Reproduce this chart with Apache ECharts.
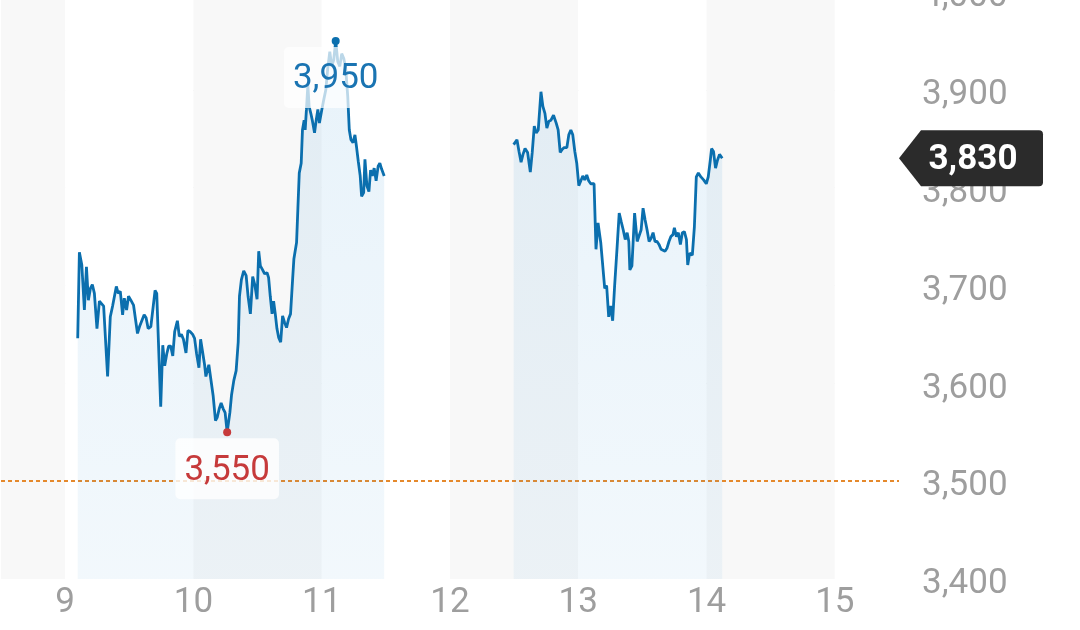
<!DOCTYPE html>
<html>
<head>
<meta charset="utf-8">
<script src="https://cdn.jsdelivr.net/npm/echarts@6/dist/echarts.min.js"></script>
<style>
  html, body { margin: 0; padding: 0; background: #fff; }
  #chart { width: 1080px; height: 630px; }
</style>
</head>
<body>
<div id="chart"></div>
<script>
// intraday price, time in hours (9.5 = 9:30)
var amTimes = [
  9.098, 9.111, 9.130, 9.150, 9.166, 9.181, 9.197, 9.212, 9.228, 9.248,
  9.267, 9.280, 9.300, 9.331, 9.352, 9.370, 9.383, 9.399, 9.414, 9.430,
  9.448, 9.461, 9.479, 9.494, 9.512, 9.533, 9.549, 9.564, 9.580, 9.595,
  9.616, 9.631, 9.647, 9.668, 9.683, 9.701, 9.714, 9.745, 9.761, 9.776,
  9.792, 9.807, 9.823, 9.839, 9.854, 9.875, 9.890, 9.906, 9.922, 9.942,
  9.957, 9.973, 9.994, 10.009, 10.025, 10.043, 10.056, 10.071, 10.087, 10.097,
  10.120, 10.134, 10.154, 10.172, 10.185, 10.201, 10.216, 10.232, 10.247, 10.263,
  10.284, 10.297, 10.315, 10.333, 10.349, 10.359, 10.374, 10.392, 10.411, 10.426,
  10.444, 10.462, 10.478, 10.496, 10.509, 10.522, 10.535, 10.555, 10.574, 10.586,
  10.599, 10.613, 10.625, 10.638, 10.651, 10.664, 10.680, 10.695, 10.711, 10.726,
  10.742, 10.757, 10.773, 10.783, 10.804, 10.814, 10.825, 10.840, 10.850, 10.863,
  10.871, 10.881, 10.892, 10.902, 10.915, 10.928, 10.944, 10.957, 10.970, 10.982,
  11.001, 11.016, 11.032, 11.047, 11.063, 11.078, 11.094, 11.109, 11.125, 11.141,
  11.156, 11.172, 11.187, 11.203, 11.215, 11.228, 11.244, 11.259, 11.272, 11.285,
  11.300, 11.311, 11.327, 11.337, 11.352, 11.368, 11.381, 11.394, 11.409, 11.424,
  11.440, 11.453, 11.467, 11.487
];
var amPrices = [
  3646, 3734, 3721, 3675, 3719, 3685, 3697, 3701, 3692, 3656,
  3684, 3685, 3679, 3607, 3668, 3679, 3677, 3699, 3692, 3694,
  3670, 3687, 3675, 3689, 3685, 3680, 3665, 3651, 3658, 3657,
  3670, 3667, 3656, 3658, 3660, 3695, 3692, 3576, 3639, 3618,
  3630, 3638, 3638, 3628, 3653, 3664, 3648, 3650, 3645, 3631,
  3654, 3653, 3650, 3646, 3630, 3616, 3645, 3643, 3619, 3607,
  3619, 3618, 3587, 3562, 3565, 3574, 3580, 3574, 3570, 3550,
  3570, 3588, 3603, 3613, 3642, 3689, 3706, 3715, 3710, 3689,
  3671, 3709, 3701, 3686, 3735, 3720, 3717, 3712, 3713, 3708,
  3689, 3671, 3684, 3671, 3656, 3647, 3642, 3669, 3662, 3657,
  3666, 3671, 3706, 3727, 3744, 3778, 3815, 3825, 3859, 3869,
  3859, 3880, 3905, 3883, 3876, 3868, 3856, 3869, 3880, 3866,
  3880, 3890, 3900, 3922, 3939, 3924, 3931, 3950, 3929, 3924,
  3937, 3932, 3922, 3893, 3859, 3849, 3846, 3854, 3841, 3827,
  3812, 3791, 3795, 3829, 3802, 3796, 3818, 3812, 3820, 3807,
  3822, 3825, 3819, 3812
];
var pmTimes = [
  12.496, 12.522, 12.538, 12.554, 12.569, 12.585, 12.605, 12.626, 12.641, 12.657,
  12.672, 12.688, 12.709, 12.724, 12.740, 12.755, 12.771, 12.787, 12.807, 12.828,
  12.843, 12.859, 12.874, 12.890, 12.911, 12.926, 12.942, 12.957, 12.973, 12.988,
  13.004, 13.019, 13.035, 13.050, 13.066, 13.081, 13.097, 13.123, 13.138, 13.154,
  13.175, 13.190, 13.206, 13.221, 13.237, 13.252, 13.268, 13.283, 13.303, 13.319,
  13.335, 13.350, 13.366, 13.381, 13.394, 13.402, 13.418, 13.439, 13.459, 13.474,
  13.490, 13.505, 13.521, 13.536, 13.552, 13.567, 13.583, 13.598, 13.614, 13.629,
  13.645, 13.660, 13.676, 13.691, 13.707, 13.722, 13.738, 13.749, 13.765, 13.780,
  13.796, 13.811, 13.827, 13.843, 13.853, 13.868, 13.889, 13.905, 13.920, 13.936,
  13.956, 13.977, 13.998, 14.013, 14.029, 14.039, 14.054, 14.070, 14.085, 14.101,
  14.122
];
var pmPrices = [
  3844, 3849, 3837, 3826, 3834, 3840, 3836, 3816, 3836, 3863,
  3856, 3859, 3898, 3883, 3876, 3861, 3868, 3869, 3874, 3866,
  3859, 3836, 3839, 3841, 3841, 3854, 3859, 3854, 3837, 3825,
  3802, 3800, 3812, 3808, 3813, 3807, 3804, 3804, 3737, 3764,
  3744, 3746, 3697, 3700, 3668, 3679, 3664, 3699, 3740, 3774,
  3765, 3757, 3747, 3754, 3745, 3716, 3720, 3774, 3745, 3747,
  3757, 3779, 3767, 3757, 3745, 3748, 3754, 3745, 3745, 3742,
  3737, 3735, 3735, 3738, 3745, 3750, 3752, 3759, 3750, 3754,
  3742, 3754, 3755, 3747, 3721, 3733, 3731, 3760, 3811, 3815,
  3811, 3808, 3804, 3811, 3828, 3840, 3837, 3820, 3828, 3834,
  3830
];
var lunchBreak = 12;
var refPrice = 3500;
var xTicks = [9, 10, 11, 12, 13, 14, 15];

var lineColor = '#0b6fae';
var upColor = '#1a74b2';
var downColor = '#c63a3b';
var axisText = '#9e9e9e';

function fmt(v) {
    return Number(v).toLocaleString('en-US');
}

var data = [];
amTimes.forEach(function (t, i) { data.push([t, amPrices[i]]); });
data.push([lunchBreak, null]);
pmTimes.forEach(function (t, i) { data.push([t, pmPrices[i]]); });

var lastPrice = pmPrices[pmPrices.length - 1];

var chart = echarts.init(document.getElementById('chart'));

chart.setOption({
    animation: false,
    backgroundColor: '#ffffff',
    textStyle: { fontFamily: 'Roboto' },
    grid: {
        left: 1,
        right: 181,
        top: -8,
        bottom: 51,
        outerBoundsMode: 'none',
        containLabel: false
    },
    xAxis: {
        type: 'value',
        min: xTicks[0] - 0.5,
        max: xTicks[xTicks.length - 1] + 0.5,
        splitNumber: 7,
        axisLine: { show: false },
        axisTick: { show: false },
        splitLine: { show: false },
        splitArea: {
            show: true,
            areaStyle: { color: ['#f8f8f8', '#ffffff'] }
        },
        axisLabel: {
            showMinLabel: false,
            showMaxLabel: false,
            margin: 7,
            color: axisText,
            fontSize: 35,
            fontFamily: 'Roboto',
            formatter: function (v) {
                return xTicks.indexOf(v) >= 0 ? String(v) : '';
            }
        }
    },
    yAxis: {
        type: 'value',
        position: 'right',
        min: 3400,
        max: 4000,
        interval: 100,
        axisLine: { show: false },
        axisTick: { show: false },
        splitLine: {
            showMinLine: false,
            showMaxLine: false,
            lineStyle: { color: '#ebebeb', width: 1 }
        },
        axisLabel: {
            margin: 23,
            color: axisText,
            fontSize: 35,
            fontFamily: 'Roboto',
            // a thin empty first line nudges the value down a few pixels
            formatter: function (v) {
                return '{s| }\n{v|' + fmt(v) + '}';
            },
            rich: {
                s: { fontSize: 10, lineHeight: 11 },
                v: { fontSize: 35, lineHeight: 35, color: axisText, fontFamily: 'Roboto' }
            }
        }
    },
    series: [
        {
            type: 'line',
            data: data,
            showSymbol: false,
            connectNulls: false,
            lineStyle: { color: lineColor, width: 2.8 },
            itemStyle: { color: lineColor },
            areaStyle: {
                color: new echarts.graphic.LinearGradient(0, 0, 0, 1, [
                    { offset: 0, color: 'rgba(20,130,205,0.14)' },
                    { offset: 1, color: 'rgba(20,130,205,0.08)' }
                ])
            },
            markLine: {
                z: 3,
                silent: true,
                symbol: 'none',
                label: { show: false },
                lineStyle: { color: '#e5892c', type: [4, 3], width: 2 },
                data: [{ yAxis: refPrice }]
            },
            markPoint: {
                z: 6,
                silent: true,
                symbol: 'circle',
                symbolSize: 8,
                data: [
                    {
                        type: 'max',
                        itemStyle: { color: lineColor },
                        label: {
                            show: true,
                            position: 'bottom',
                            distance: 2,
                            color: upColor,
                            fontSize: 35,
                            fontFamily: 'Roboto',
                            backgroundColor: 'rgba(255,255,255,0.72)',
                            borderRadius: 5,
                            padding: [15, 9, 11, 9],
                            formatter: function (p) { return fmt(p.value); }
                        }
                    },
                    {
                        type: 'min',
                        itemStyle: { color: downColor },
                        label: {
                            show: true,
                            position: 'bottom',
                            distance: 2,
                            color: downColor,
                            fontSize: 35,
                            fontFamily: 'Roboto',
                            backgroundColor: 'rgba(255,255,255,0.8)',
                            borderRadius: 5,
                            padding: [15, 9, 11, 9],
                            formatter: function (p) { return fmt(p.value); }
                        }
                    },
                    {
                        coord: [xTicks[xTicks.length - 1] + 0.5, lastPrice],
                        value: lastPrice,
                        symbol: 'path://M0,28 L22,0 L140,0 Q144,0 144,4 L144,52 Q144,56 140,56 L22,56 Z',
                        symbolSize: [144, 56],
                        symbolOffset: [72, 0],
                        symbolKeepAspect: false,
                        itemStyle: { color: '#2b2b2b' },
                        label: {
                            show: true,
                            position: 'inside',
                            offset: [2, 2],
                            color: '#ffffff',
                            fontSize: 35,
                            fontWeight: 'bold',
                            fontFamily: 'Roboto',
                            formatter: function (p) { return fmt(p.value); }
                        }
                    }
                ]
            }
        }
    ]
});
</script>
</body>
</html>
